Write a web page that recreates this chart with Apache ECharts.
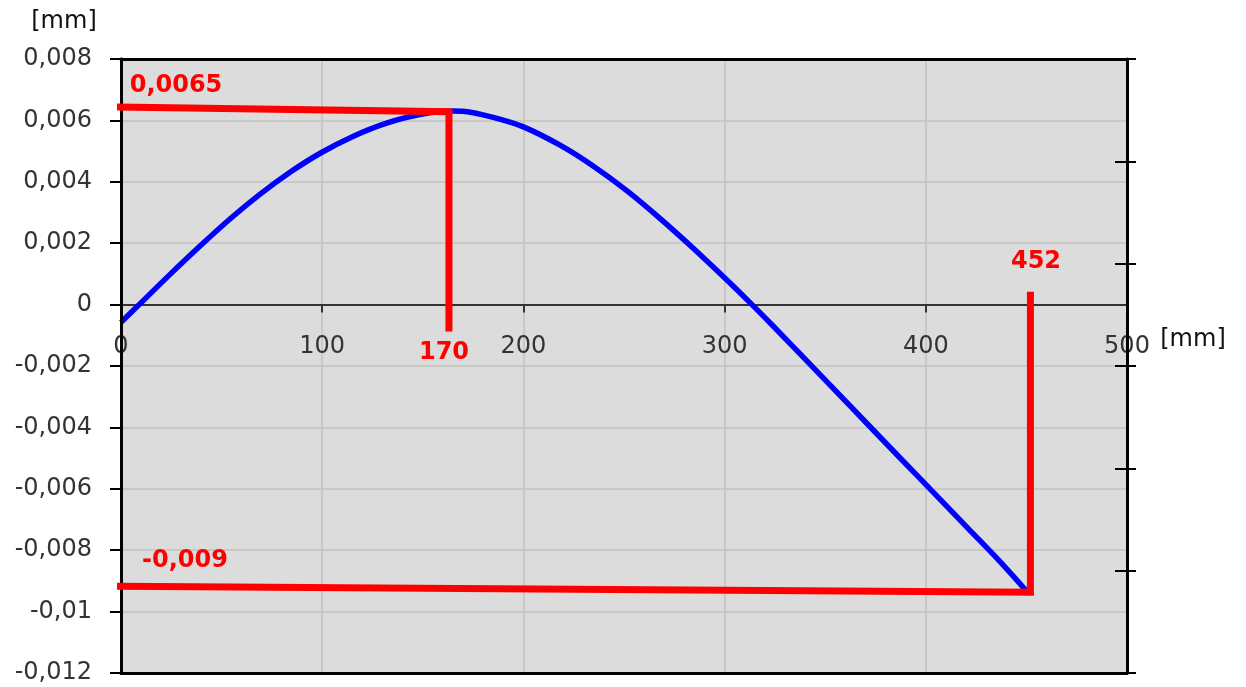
<!DOCTYPE html>
<html>
<head>
<meta charset="utf-8">
<script src="https://cdn.jsdelivr.net/npm/echarts@6/dist/echarts.min.js"></script>
<style>
html,body{margin:0;padding:0;background:#fff;}
#chart{width:1246px;height:687px;}
</style>
</head>
<body>
<div id="chart"></div>
<script>
// Deflection curve (position [mm], deflection [mm])
var curveX = [0, 9, 24, 39, 54, 69, 84, 99, 115, 132, 149, 165, 170, 185, 200, 218, 235, 252, 268, 284, 301, 313, 324, 338, 354, 371, 387, 404, 421, 437, 451];
var curveY = [-0.00058, 0, 0.00096, 0.00189, 0.00278, 0.00359, 0.00431, 0.00493, 0.00547, 0.00591, 0.0062, 0.00631, 0.0063, 0.0061, 0.00579, 0.0052, 0.0045, 0.00368, 0.0028, 0.00186, 0.00081, 0.00004, -0.00069, -0.00164, -0.00273, -0.00389, -0.00498, -0.00613, -0.00729, -0.00838, -0.0094];

// Red annotation polylines
var markMaxX = [-5.5, 163, 163];
var markMaxY = [0.00644, 0.00628, -0.00088];
var markEndX = [-7, 452, 452];
var markEndY = [-0.00917, -0.00937, 0.00042];

// Annotation texts
var annotationTexts = ['0,0065', '170', '452', '-0,009'];

// Axis settings
var xTicks = [0, 100, 200, 300, 400, 500];
var yMin = -0.012, yMax = 0.008, yStep = 0.002;

function zip(a, b) { return a.map(function (v, i) { return [v, b[i]]; }); }
function fmtY(v) {
  var s = String(Number(v.toFixed(4)));
  return s.replace('.', ',');
}

var W = 1246, H = 687;
var gridL = 121, gridR = 119, gridT = 59, gridB = 14;
var gridH = H - gridT - gridB;
// the x axis sits at y = 0: shift it up from the grid bottom by the scale fraction
var zeroOffset = -gridH * (0 - yMin) / (yMax - yMin);

var chart = echarts.init(document.getElementById('chart'));
var font = 'DejaVu Sans';

function borderAxis(pos) {
  return {
    type: 'value', min: 0, max: 1, position: pos, offset: 0, z: 5,
    axisLine: { show: true, onZero: false, lineStyle: { color: '#000', width: 3 } },
    axisTick: { show: false }, axisLabel: { show: false }, splitLine: { show: false }
  };
}

chart.setOption({
  backgroundColor: '#ffffff',
  animation: false,
  grid: {
    left: gridL, right: gridR, top: gridT, bottom: gridB,
    containLabel: false, outerBoundsMode: 'none',
    show: true, backgroundColor: '#dcdcdc', borderWidth: 0
  },
  xAxis: [
    {
      type: 'value', min: xTicks[0], max: xTicks[xTicks.length - 1], interval: 100,
      position: 'bottom', offset: zeroOffset, z: 3,
      axisLine: { onZero: false, lineStyle: { color: '#333', width: 2 } },
      axisTick: { show: true, length: 8, lineStyle: { color: '#333', width: 2 } },
      splitLine: { show: true, lineStyle: { color: '#c2c2c2', width: 1.5 } },
      axisLabel: { margin: 30, color: '#333', fontFamily: font, fontSize: 24, showMinLabel: true, showMaxLabel: true, hideOverlap: false }
    },
    borderAxis('top'),
    borderAxis('bottom')
  ],
  yAxis: [
    {
      type: 'value', min: yMin, max: yMax, interval: yStep, position: 'left', z: 2,
      axisLine: { show: true, onZero: false, lineStyle: { color: '#000', width: 3 } },
      axisTick: { show: true, length: 11, lineStyle: { color: '#000', width: 2 } },
      splitLine: { show: true, lineStyle: { color: '#c2c2c2', width: 1.5 } },
      axisLabel: { margin: 29, color: '#333', fontFamily: font, fontSize: 24, formatter: fmtY, showMinLabel: true, showMaxLabel: true }
    },
    {
      type: 'value', min: 0, max: 6, interval: 1, position: 'right', z: 5,
      axisLine: { show: true, onZero: false, lineStyle: { color: '#000', width: 3 } },
      axisTick: { show: true, inside: false, length: 9, lineStyle: { color: '#000', width: 2 } },
      splitLine: { show: false }, axisLabel: { show: false }
    },
    {
      type: 'value', min: 0, max: 6, interval: 1, position: 'right', z: 5,
      axisLine: { show: false, onZero: false },
      axisTick: { show: true, inside: true, length: 12, lineStyle: { color: '#000', width: 2 } },
      splitLine: { show: false }, axisLabel: { show: false }
    },
    borderAxis('left')
  ],
  series: [
    {
      type: 'line', data: zip(curveX, curveY), smooth: 0.3, symbol: 'none',
      lineStyle: { color: '#0000ff', width: 5.5 }, z: 4
    },
    {
      type: 'line', data: zip(markMaxX, markMaxY), symbol: 'none', clip: false,
      lineStyle: { color: '#ff0000', width: 7, join: 'miter', cap: 'butt' }, z: 6
    },
    {
      type: 'line', data: zip(markEndX, markEndY), symbol: 'none', clip: false,
      lineStyle: { color: '#ff0000', width: 7, join: 'miter', cap: 'butt' }, z: 6
    }
  ],
  graphic: [
    { type: 'text', x: 64, y: 22, style: { text: '[mm]', fill: '#111', font: '24px "DejaVu Sans"', align: 'center', verticalAlign: 'middle' } },
    { type: 'text', x: 1193, y: 340, style: { text: '[mm]', fill: '#111', font: '24px "DejaVu Sans"', align: 'center', verticalAlign: 'middle' } },
    { type: 'text', x: 176, y: 86, z: 10, style: { text: annotationTexts[0], fill: '#ff0000', font: 'bold 24px "DejaVu Sans"', align: 'center', verticalAlign: 'middle' } },
    { type: 'text', x: 444, y: 353, z: 10, style: { text: annotationTexts[1], fill: '#ff0000', font: 'bold 24px "DejaVu Sans"', align: 'center', verticalAlign: 'middle' } },
    { type: 'text', x: 1036, y: 262, z: 10, style: { text: annotationTexts[2], fill: '#ff0000', font: 'bold 24px "DejaVu Sans"', align: 'center', verticalAlign: 'middle' } },
    { type: 'text', x: 185, y: 561, z: 10, style: { text: annotationTexts[3], fill: '#ff0000', font: 'bold 24px "DejaVu Sans"', align: 'center', verticalAlign: 'middle' } }
  ]
});
</script>
</body>
</html>
